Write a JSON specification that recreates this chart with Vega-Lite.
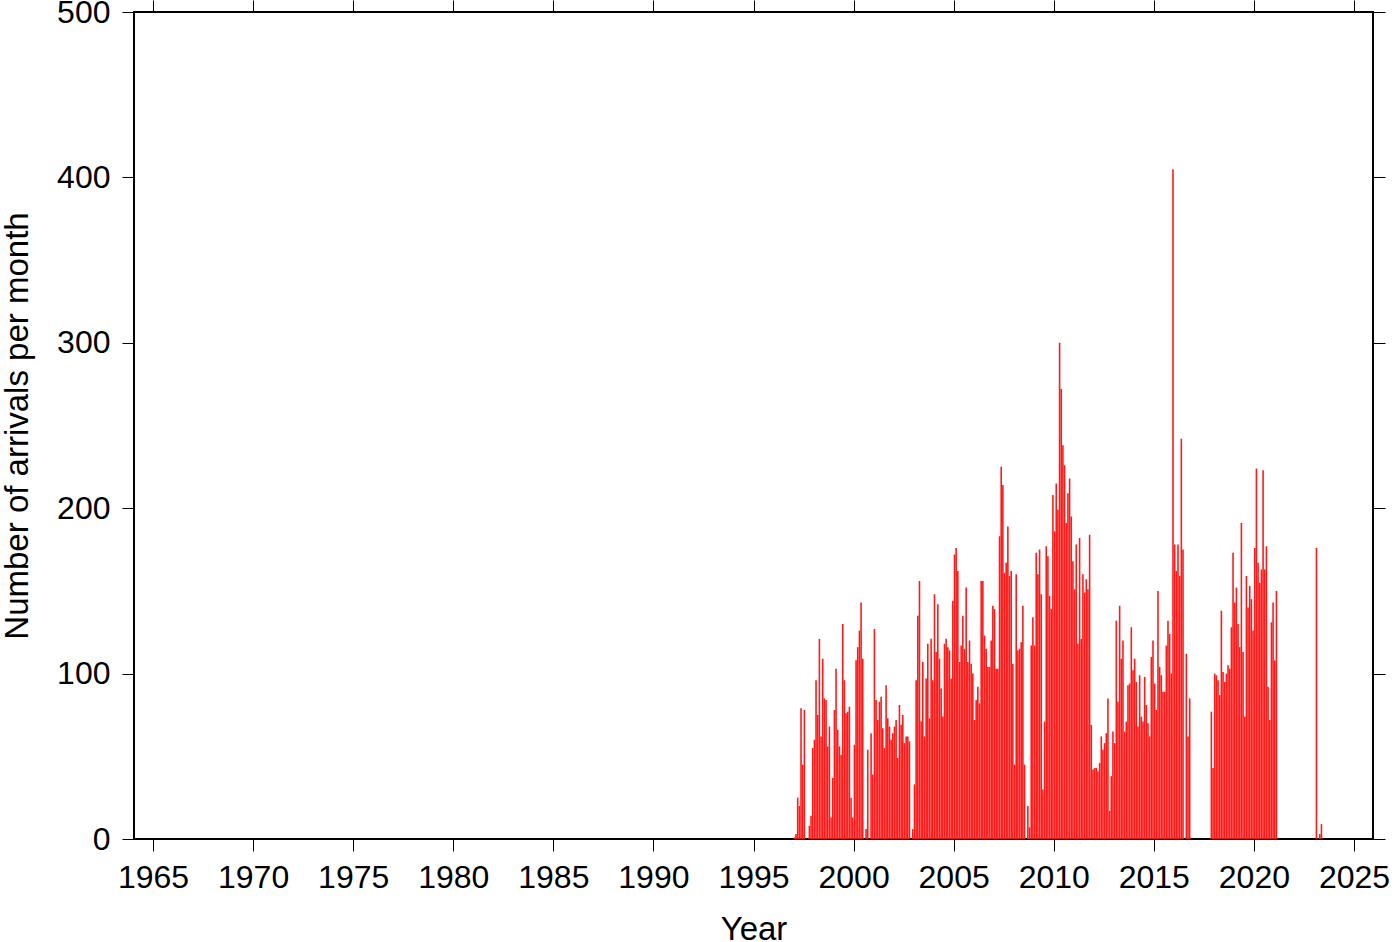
{
  "$schema": "https://vega.github.io/schema/vega-lite/v6.json",
  "width": 1239,
  "height": 827,
  "autosize": {"type": "none"},
  "padding": {"left": 134, "top": 12, "right": 27, "bottom": 103},
  "data": {"values": [
    {"t":1997.042,"n":1},{"t":1997.125,"n":3},{"t":1997.208,"n":25},{"t":1997.292,"n":20},{"t":1997.375,"n":79},{"t":1997.458,"n":45},{"t":1997.542,"n":78},{"t":1997.792,"n":8},{"t":1997.875,"n":14},{"t":1997.958,"n":55},
    {"t":1998.042,"n":60},{"t":1998.125,"n":96},{"t":1998.208,"n":75},{"t":1998.292,"n":121},{"t":1998.375,"n":62},{"t":1998.458,"n":109},{"t":1998.542,"n":85},{"t":1998.625,"n":84},{"t":1998.708,"n":56},{"t":1998.792,"n":68},{"t":1998.875,"n":13},{"t":1998.958,"n":37},
    {"t":1999.042,"n":78},{"t":1999.125,"n":103},{"t":1999.208,"n":66},{"t":1999.292,"n":56},{"t":1999.375,"n":51},{"t":1999.458,"n":130},{"t":1999.542,"n":96},{"t":1999.625,"n":76},{"t":1999.708,"n":77},{"t":1999.792,"n":80},{"t":1999.875,"n":25},{"t":1999.958,"n":13},
    {"t":2000.042,"n":57},{"t":2000.125,"n":108},{"t":2000.208,"n":116},{"t":2000.292,"n":126},{"t":2000.375,"n":143},{"t":2000.458,"n":109},{"t":2000.625,"n":6},{"t":2000.708,"n":54},{"t":2000.875,"n":64},{"t":2000.958,"n":39},
    {"t":2001.042,"n":127},{"t":2001.125,"n":84},{"t":2001.208,"n":72},{"t":2001.292,"n":83},{"t":2001.375,"n":86},{"t":2001.458,"n":67},{"t":2001.542,"n":55},{"t":2001.625,"n":93},{"t":2001.708,"n":73},{"t":2001.792,"n":68},{"t":2001.875,"n":60},{"t":2001.958,"n":64},
    {"t":2002.042,"n":68},{"t":2002.125,"n":72},{"t":2002.208,"n":49},{"t":2002.292,"n":81},{"t":2002.375,"n":69},{"t":2002.458,"n":75},{"t":2002.542,"n":58},{"t":2002.625,"n":62},{"t":2002.708,"n":62},{"t":2002.792,"n":59},{"t":2002.958,"n":6},
    {"t":2003.042,"n":33},{"t":2003.125,"n":96},{"t":2003.208,"n":135},{"t":2003.292,"n":156},{"t":2003.375,"n":71},{"t":2003.458,"n":107},{"t":2003.542,"n":62},{"t":2003.625,"n":97},{"t":2003.708,"n":118},{"t":2003.792,"n":73},{"t":2003.875,"n":121},{"t":2003.958,"n":96},
    {"t":2004.042,"n":148},{"t":2004.125,"n":113},{"t":2004.208,"n":142},{"t":2004.292,"n":109},{"t":2004.375,"n":91},{"t":2004.458,"n":74},{"t":2004.542,"n":118},{"t":2004.625,"n":121},{"t":2004.708,"n":116},{"t":2004.792,"n":114},{"t":2004.875,"n":97},{"t":2004.958,"n":144},
    {"t":2005.042,"n":172},{"t":2005.125,"n":176},{"t":2005.208,"n":162},{"t":2005.292,"n":107},{"t":2005.375,"n":117},{"t":2005.458,"n":135},{"t":2005.542,"n":115},{"t":2005.625,"n":152},{"t":2005.708,"n":107},{"t":2005.792,"n":120},{"t":2005.875,"n":106},{"t":2005.958,"n":100},
    {"t":2006.042,"n":72},{"t":2006.125,"n":84},{"t":2006.208,"n":92},{"t":2006.292,"n":82},{"t":2006.375,"n":156},{"t":2006.458,"n":156},{"t":2006.542,"n":123},{"t":2006.625,"n":115},{"t":2006.708,"n":104},{"t":2006.792,"n":104},{"t":2006.875,"n":120},{"t":2006.958,"n":141},
    {"t":2007.042,"n":139},{"t":2007.125,"n":103},{"t":2007.208,"n":103},{"t":2007.292,"n":183},{"t":2007.375,"n":225},{"t":2007.458,"n":214},{"t":2007.542,"n":161},{"t":2007.625,"n":167},{"t":2007.708,"n":189},{"t":2007.792,"n":159},{"t":2007.875,"n":162},{"t":2007.958,"n":106},
    {"t":2008.042,"n":45},{"t":2008.125,"n":160},{"t":2008.208,"n":114},{"t":2008.292,"n":115},{"t":2008.375,"n":119},{"t":2008.458,"n":141},{"t":2008.542,"n":45},{"t":2008.708,"n":20},{"t":2008.792,"n":7},{"t":2008.875,"n":117},{"t":2008.958,"n":134},
    {"t":2009.042,"n":117},{"t":2009.125,"n":173},{"t":2009.208,"n":160},{"t":2009.292,"n":175},{"t":2009.375,"n":148},{"t":2009.458,"n":30},{"t":2009.542,"n":71},{"t":2009.625,"n":177},{"t":2009.708,"n":171},{"t":2009.792,"n":147},{"t":2009.875,"n":139},{"t":2009.958,"n":208},
    {"t":2010.042,"n":186},{"t":2010.125,"n":215},{"t":2010.208,"n":199},{"t":2010.292,"n":300},{"t":2010.375,"n":272},{"t":2010.458,"n":238},{"t":2010.542,"n":226},{"t":2010.625,"n":191},{"t":2010.708,"n":209},{"t":2010.792,"n":218},{"t":2010.875,"n":195},{"t":2010.958,"n":168},
    {"t":2011.042,"n":151},{"t":2011.125,"n":178},{"t":2011.208,"n":118},{"t":2011.292,"n":182},{"t":2011.375,"n":121},{"t":2011.458,"n":160},{"t":2011.542,"n":149},{"t":2011.625,"n":157},{"t":2011.708,"n":151},{"t":2011.792,"n":184},{"t":2011.875,"n":69},{"t":2011.958,"n":42},
    {"t":2012.042,"n":43},{"t":2012.125,"n":43},{"t":2012.208,"n":41},{"t":2012.292,"n":46},{"t":2012.375,"n":62},{"t":2012.458,"n":54},{"t":2012.542,"n":58},{"t":2012.625,"n":64},{"t":2012.708,"n":85},{"t":2012.792,"n":17},{"t":2012.875,"n":38},{"t":2012.958,"n":65},
    {"t":2013.042,"n":58},{"t":2013.125,"n":132},{"t":2013.208,"n":83},{"t":2013.292,"n":141},{"t":2013.375,"n":109},{"t":2013.458,"n":120},{"t":2013.542,"n":65},{"t":2013.625,"n":71},{"t":2013.708,"n":93},{"t":2013.792,"n":94},{"t":2013.875,"n":128},{"t":2013.958,"n":102},
    {"t":2014.042,"n":109},{"t":2014.125,"n":95},{"t":2014.208,"n":68},{"t":2014.292,"n":99},{"t":2014.375,"n":74},{"t":2014.458,"n":71},{"t":2014.542,"n":98},{"t":2014.625,"n":81},{"t":2014.708,"n":70},{"t":2014.792,"n":62},{"t":2014.875,"n":110},{"t":2014.958,"n":120},
    {"t":2015.042,"n":94},{"t":2015.125,"n":78},{"t":2015.208,"n":150},{"t":2015.292,"n":104},{"t":2015.375,"n":99},{"t":2015.458,"n":89},{"t":2015.542,"n":89},{"t":2015.625,"n":117},{"t":2015.708,"n":132},{"t":2015.792,"n":124},{"t":2015.875,"n":100},{"t":2015.958,"n":405},
    {"t":2016.042,"n":178},{"t":2016.125,"n":162},{"t":2016.208,"n":178},{"t":2016.292,"n":159},{"t":2016.375,"n":242},{"t":2016.458,"n":175},{"t":2016.625,"n":112},{"t":2016.708,"n":62},{"t":2016.792,"n":85},
    {"t":2017.875,"n":77},{"t":2017.958,"n":43},
    {"t":2018.042,"n":100},{"t":2018.125,"n":99},{"t":2018.208,"n":96},{"t":2018.292,"n":87},{"t":2018.375,"n":138},{"t":2018.458,"n":101},{"t":2018.542,"n":95},{"t":2018.625,"n":100},{"t":2018.708,"n":105},{"t":2018.792,"n":103},{"t":2018.875,"n":128},{"t":2018.958,"n":173},
    {"t":2019.042,"n":143},{"t":2019.125,"n":152},{"t":2019.208,"n":130},{"t":2019.292,"n":116},{"t":2019.375,"n":191},{"t":2019.458,"n":113},{"t":2019.542,"n":74},{"t":2019.625,"n":159},{"t":2019.708,"n":140},{"t":2019.792,"n":153},{"t":2019.875,"n":145},{"t":2019.958,"n":126},
    {"t":2020.042,"n":176},{"t":2020.125,"n":224},{"t":2020.208,"n":167},{"t":2020.292,"n":155},{"t":2020.375,"n":163},{"t":2020.458,"n":223},{"t":2020.542,"n":163},{"t":2020.625,"n":177},{"t":2020.708,"n":92},{"t":2020.792,"n":72},{"t":2020.875,"n":131},{"t":2020.958,"n":143},
    {"t":2021.042,"n":108},{"t":2021.125,"n":150},
    {"t":2023.125,"n":176},{"t":2023.292,"n":3},{"t":2023.375,"n":9}
  ]},
  "layer": [
    {
      "mark": {"type": "bar", "width": 1.6, "color": "#ff1a1a"},
      "encoding": {
        "x": {"field": "t", "type": "quantitative",
              "scale": {"domain": [1964.05, 2025.95], "nice": false, "zero": false, "padding": 0},
              "axis": {"orient": "bottom", "values": [1965,1970,1975,1980,1985,1990,1995,2000,2005,2010,2015,2020,2025], "format": "d", "labelPadding": 11, "labelFlush": false, "title": "Year", "titlePadding": 20, "titleFontSize": 33}},
        "y": {"field": "n", "type": "quantitative",
              "scale": {"domain": [0, 500], "nice": false, "padding": 0},
              "axis": {"orient": "left", "values": [0,100,200,300,400,500], "labelPadding": 12, "title": "Number of arrivals per month", "titlePadding": 22, "titleFontSize": 33}}
      }
    },
    {
      "mark": {"type": "bar", "width": 1.6, "opacity": 0},
      "encoding": {
        "x": {"field": "t", "type": "quantitative",
              "axis": {"orient": "top", "values": [1965,1970,1975,1980,1985,1990,1995,2000,2005,2010,2015,2020,2025], "labels": false, "title": null}},
        "y": {"field": "n", "type": "quantitative",
              "axis": {"orient": "right", "values": [0,100,200,300,400,500], "labels": false, "title": null}}
      }
    }
  ],
  "resolve": {"axis": {"x": "independent", "y": "independent"}},
  "config": {
    "font": "Liberation Sans",
    "view": {"stroke": "#000000", "strokeWidth": 2},
    "axis": {
      "domain": false, "grid": false,
      "tickColor": "#000000", "tickWidth": 1, "tickSize": 12,
      "labelColor": "#000000", "labelFont": "Liberation Sans", "labelFontSize": 32,
      "titleFont": "Liberation Sans", "titleFontSize": 33, "titleFontWeight": "normal", "titleColor": "#000000"
    }
  }
}
